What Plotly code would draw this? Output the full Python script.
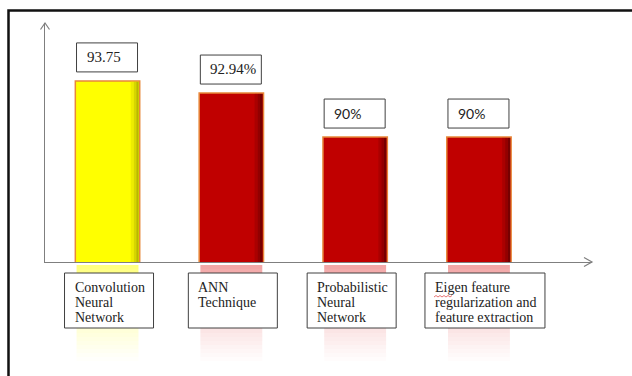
import plotly.graph_objects as go

# ---------------- data ----------------
categories = ["Convolution Neural Network", "ANN Technique",
              "Probabilistic Neural Network",
              "Eigen feature regularization and feature extraction"]
category_lines = [["Convolution", "Neural", "Network"],
                  ["ANN", "Technique"],
                  ["Probabilistic", "Neural", "Network"],
                  ["Eigen feature", "regularization and", "feature extraction"]]
accuracy = [93.75, 92.94, 90, 90]
value_labels = ["93.75", "92.94%", "90%", "90%"]

# ---------------- style ----------------
bar_colors = ["#FFFF00", "#C00000", "#C00000", "#C00000"]
shade_colors = [["#EDED00", "#D6D600", "#B8B800"],
                ["#AA0000", "#920000", "#760000"],
                ["#AA0000", "#920000", "#760000"],
                ["#AA0000", "#920000", "#760000"]]
refl_colors = ["#FFFF55", "#EE8A8A", "#EE8A8A", "#EE8A8A"]
SERIF = "Liberation Serif, Times New Roman, serif"
value_fonts = [SERIF, SERIF, "Lato", "Lato"]
value_sizes = [15, 15, 14, 14]
cat_box_x = [(-43, 46), (-43, 46), (-48, 41), (-54, 66)]
BAR_W = 0.52
Y_MIN, Y_MAX = 81.65, 97.62
W, H = 632, 376
ML, MR, MT, MB = 45, 40, 23, 114
PW, PH = W - ML - MR, H - MT - MB

def px(x):
    return (x - ML) / PW

def py(y):
    return (H - MB - y) / PH

xs = list(range(len(categories)))

fig = go.Figure()
fig.add_trace(go.Bar(
    x=xs, y=accuracy, width=BAR_W,
    marker=dict(color=bar_colors, line=dict(color="#E8883A", width=1.5)),
    hoverinfo="skip", showlegend=False,
))

shapes = []
annotations = []

# outer frame
shapes.append(dict(type="rect", xref="paper", yref="paper",
                   x0=px(8.5), x1=px(650), y0=py(10.5), y1=py(400),
                   line=dict(color="#111111", width=2.5), fillcolor="rgba(0,0,0,0)",
                   layer="below"))

# axis arrow heads
shapes.append(dict(type="path", xref="paper", yref="paper",
                   path=f"M {px(40.5)} {py(29.5)} L {px(45)} {py(23)} L {px(49.5)} {py(29.5)}",
                   line=dict(color="#7f7f7f", width=1.2)))
shapes.append(dict(type="path", xref="paper", yref="paper",
                   path=f"M {px(584)} {py(257.5)} L {px(592)} {py(262)} L {px(584)} {py(266.5)}",
                   line=dict(color="#7f7f7f", width=1.2)))

for i, (v, lab) in enumerate(zip(accuracy, value_labels)):
    right = i + BAR_W / 2
    # right-side shading strips
    offs = [(-9, -6), (-6, -3.5), (-3.5, -1)]
    for (a, b), c in zip(offs, shade_colors[i]):
        shapes.append(dict(type="rect", xref="x", yref="y", xsizemode="pixel",
                           xanchor=right, x0=a, x1=b, y0=Y_MIN, y1=v - 0.06,
                           fillcolor=c, line=dict(width=0), layer="above"))
    # reflection under the axis
    N = 24
    for k in range(N):
        op = 0.75 * (1 - k / N) ** 1.1
        shapes.append(dict(type="rect", xref="x", yref="paper", ysizemode="pixel",
                           yanchor=0, x0=i - BAR_W / 2 + 0.01, x1=i + BAR_W / 2 - 0.01,
                           y0=-3 - 4 * k, y1=-3 - 4 * (k + 1),
                           fillcolor=refl_colors[i], opacity=op, line=dict(width=0)))
    # value label box
    shapes.append(dict(type="rect", xref="x", yref="y", xsizemode="pixel",
                       ysizemode="pixel", xanchor=i, yanchor=v,
                       x0=-31, x1=30, y0=9, y1=38,
                       fillcolor="white", line=dict(color="#404040", width=1)))
    annotations.append(dict(x=i, y=v, xref="x", yref="y", text=lab,
                            xanchor="left", yanchor="middle", xshift=-23, yshift=24,
                            showarrow=False,
                            font=dict(family=value_fonts[i], size=value_sizes[i],
                                      color="#222222")))
    # category label box
    a, b = cat_box_x[i]
    shapes.append(dict(type="rect", xref="x", yref="paper", xsizemode="pixel",
                       ysizemode="pixel", xanchor=i, yanchor=0,
                       x0=a, x1=b, y0=-11, y1=-66,
                       fillcolor="white", line=dict(color="#404040", width=1)))
    for k, line in enumerate(category_lines[i]):
        annotations.append(dict(x=i, y=0, xref="x", yref="paper", text=line,
                                xanchor="left", yanchor="middle",
                                xshift=a + 8, yshift=-25 - 15 * k,
                                showarrow=False,
                                font=dict(family=SERIF, size=14, color="#222222")))

# spell-check squiggle under "Eigen"
sq_x0 = 434
pts = []
for j in range(10):
    pts.append((sq_x0 + 2 * j, 297 if j % 2 == 0 else 295.5))
path = "M " + " L ".join(f"{px(a)} {py(b)}" for a, b in pts)
shapes.append(dict(type="path", xref="paper", yref="paper", path=path,
                   line=dict(color="#E05050", width=0.8)))

fig.update_layout(
    width=W, height=H,
    margin=dict(l=ML, r=MR, t=MT, b=MB, pad=0, autoexpand=False),
    paper_bgcolor="white", plot_bgcolor="white",
    xaxis=dict(range=[-0.505, 3.913], showticklabels=False, ticks="",
               showgrid=False, zeroline=False, showline=True,
               linecolor="#7f7f7f", linewidth=1.2, fixedrange=True),
    yaxis=dict(range=[Y_MIN, Y_MAX], showticklabels=False, ticks="",
               showgrid=False, zeroline=False, showline=True,
               linecolor="#7f7f7f", linewidth=1.2, fixedrange=True),
    shapes=shapes, annotations=annotations, showlegend=False,
)

fig.write_html("out.html")
